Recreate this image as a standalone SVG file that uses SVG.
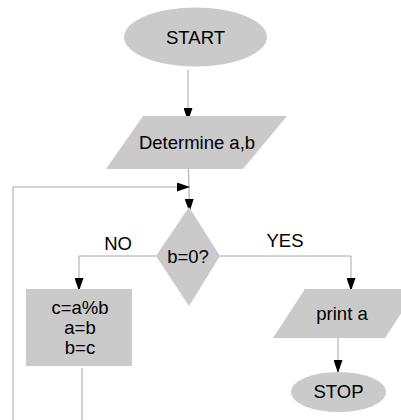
<svg xmlns="http://www.w3.org/2000/svg" width="401" height="420" viewBox="0 0 401 420">
<defs>
<style>
.shape{fill:#cacaca;stroke:none}
.lbl{font-family:"Liberation Sans",Arial,sans-serif;font-size:18.5px;fill:#000;text-anchor:middle}
.conn{fill:none;stroke:#a6a6a6;stroke-width:1}
</style>
<marker id="arr" markerUnits="userSpaceOnUse" markerWidth="13" markerHeight="9" refX="13" refY="4.5" orient="auto">
<path d="M0,0 L13,4.5 L0,9 z" fill="#000"/>
</marker>
</defs>
<rect width="401" height="420" fill="#fff"/>
<g id="connectors">
<path class="conn" d="M188,70 L188,121" marker-end="url(#arr)"/>
<path class="conn" d="M188.5,169 L189.5,212" marker-end="url(#arr)"/>
<path class="conn" d="M82,368 L82,440 L13,440 L13,187 L190,187" marker-end="url(#arr)"/>
<path class="conn" d="M156,256 L79,256 L79,291" marker-end="url(#arr)"/>
<path class="conn" d="M220,256 L351,256 L351,291" marker-end="url(#arr)"/>
<path class="conn" d="M338,338 L338,373" marker-end="url(#arr)"/>
</g>
<g id="start">
<ellipse class="shape" cx="195.5" cy="37" rx="71.5" ry="29.5"/>
<text class="lbl" x="195.5" y="44">START</text>
</g>
<g id="determine">
<polygon class="shape" points="143,116 287,116 243,169 106,169"/>
<text class="lbl" x="197" y="149">Determine a,b</text>
</g>
<g id="decision">
<polygon class="shape" points="189,207 220,256 189,306 156,256"/>
<text class="lbl" x="188" y="263">b=0?</text>
</g>
<g id="labels">
<text class="lbl" x="118" y="250">NO</text>
<text class="lbl" x="285" y="247">YES</text>
</g>
<g id="process">
<rect class="shape" x="26" y="289" width="106" height="77"/>
<text class="lbl" x="80" y="314">c=a%b</text>
<text class="lbl" x="80" y="334">a=b</text>
<text class="lbl" x="80" y="354">b=c</text>
</g>
<g id="print">
<polygon class="shape" points="305,289 417,289 385,338 273,338"/>
<text class="lbl" x="342" y="320">print a</text>
</g>
<g id="stop">
<ellipse class="shape" cx="338.5" cy="392" rx="47.5" ry="20"/>
<text class="lbl" x="338.5" y="398">STOP</text>
</g>
</svg>
